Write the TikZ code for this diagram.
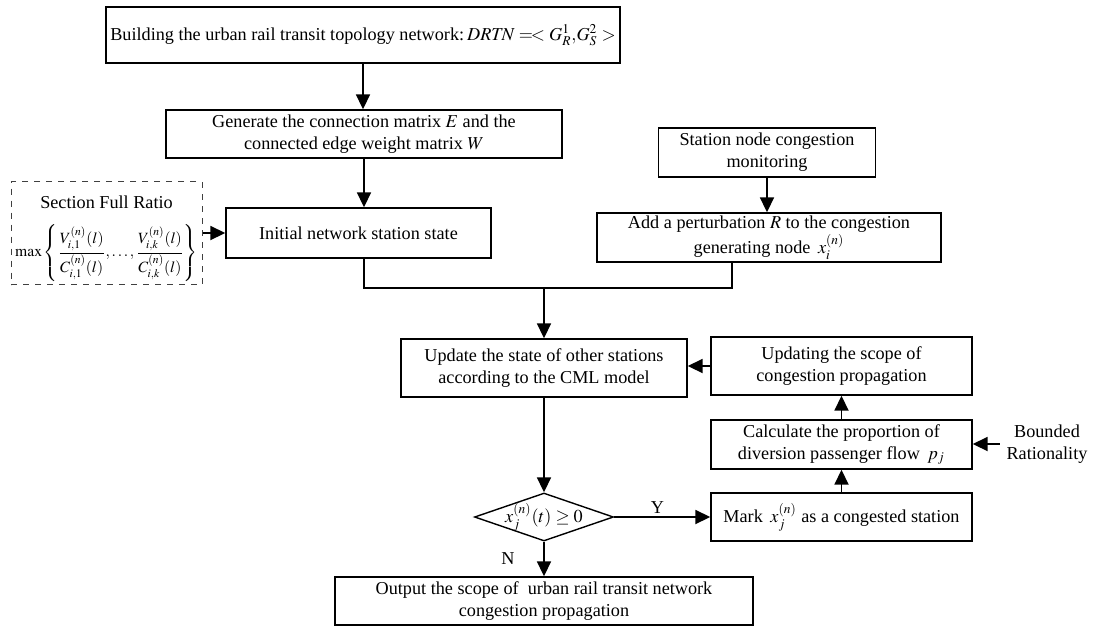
\documentclass[tikz,border=0pt]{standalone}
\usepackage{graphicx}
\usepackage{mathptmx}
\usepackage{fontspec}
\setmainfont{Liberation Serif}
\usetikzlibrary{arrows.meta,shapes.geometric}

\begin{document}
\begin{tikzpicture}[x=0.5pt,y=-0.5pt,
    font=\fontsize{9.1}{11}\selectfont,
    box/.style={draw,line width=0.7pt,align=center,inner sep=0pt},
    flow/.style={-{Triangle[length=7.5pt,width=7pt]},line width=0.9pt}]
    \useasboundingbox (0,0) rectangle (1094,628);
    \node[box,minimum width=257pt,minimum height=28pt] (build) at (363,35) {Building the urban rail transit topology network:\,$\mathit{DRTN} =\!< G_R^1,\! G_S^2 >$};
    \node[box,minimum width=198pt,minimum height=24pt] (gen) at (364,134) {Generate the connection matrix $E$ and the\\connected edge weight matrix $W$};
    \node[box,minimum width=132.5pt,minimum height=25pt] (init) at (358.5,233) {Initial network station state};
    \node[box,dashed,draw=black!75,line width=0.5pt,minimum width=95.5pt,minimum height=51.5pt,
        label={[anchor=north,yshift=-4pt]north:{Section Full Ratio}},
        label={[yshift=-10pt]center:{\scalebox{0.86}{$\displaystyle\max\left\{\frac{V_{i,1}^{(n)}(l)}{C_{i,1}^{(n)}(l)},\ldots,\frac{V_{i,k}^{(n)}(l)}{C_{i,k}^{(n)}(l)}\right\}$}}}] (ratio) at (106.5,233) {};
    \node[box,minimum width=108.5pt,minimum height=24.5pt] (mon) at (767,152.5) {Station node congestion\\monitoring};
    \node[box,minimum width=172pt,minimum height=24.5pt] (add) at (769,237.5) {Add a perturbation $R$ to the congestion\\generating node \,$x_i^{(n)}$};
    \node[box,minimum width=143pt,minimum height=29pt] (upd) at (544,368) {Update the state of other stations\\according to the CML model};
    \node[box,minimum width=130.5pt,minimum height=29pt] (scope) at (841.5,366) {Updating the scope of\\congestion propagation};
    \node[box,minimum width=130.5pt,minimum height=24.5pt] (calc) at (841.5,444.5) {Calculate the proportion of\\diversion passenger flow \,$p_j$};
    \node[box,minimum width=130.5pt,minimum height=24pt] (mark) at (841.5,517) {Mark \,$x_j^{(n)}$ as a congested station};
    \node[box,diamond,minimum width=69.5pt,minimum height=24pt,label=center:{$x_j^{(n)}(t)\geq 0$}] (dec) at (544,517) {};
    \node[box,minimum width=209pt,minimum height=24pt] (out) at (544,601) {Output the scope of \ urban rail transit network\\congestion propagation};
    \node[align=center] (bnd) at (1047,444) {Bounded\\Rationality};
    \coordinate (join) at (544,288);
    \coordinate (joinR) at (732,288);

    \draw[flow] (build.south) -- (build.south |- gen.north);
    \draw[flow] (gen.south) -- (gen.south |- init.north);
    \draw[flow] (ratio.east) -- (ratio.east -| init.west);
    \draw[flow] (mon.south) -- (mon.south |- add.north);
    \draw[line width=0.9pt] (gen.south |- init.south) |- (joinR) -- (joinR |- add.south);
    \draw[flow] (join) -- (upd.north);
    \draw[flow] (upd) -- (dec);
    \draw[flow] (dec) -- node[above,pos=0.45,yshift=-2pt] {Y} (mark);
    \draw[flow] (dec) -- node[left,xshift=-11pt] {N} (out);
    \draw[flow] (mark.north) -- (mark.north |- calc.south);
    \draw[flow] (calc.north) -- (calc.north |- scope.south);
    \draw[flow] (scope.west) -- (scope.west -| upd.east);
    \draw[flow] (bnd.west) -- (bnd.west -| calc.east);
\end{tikzpicture}
\end{document}
